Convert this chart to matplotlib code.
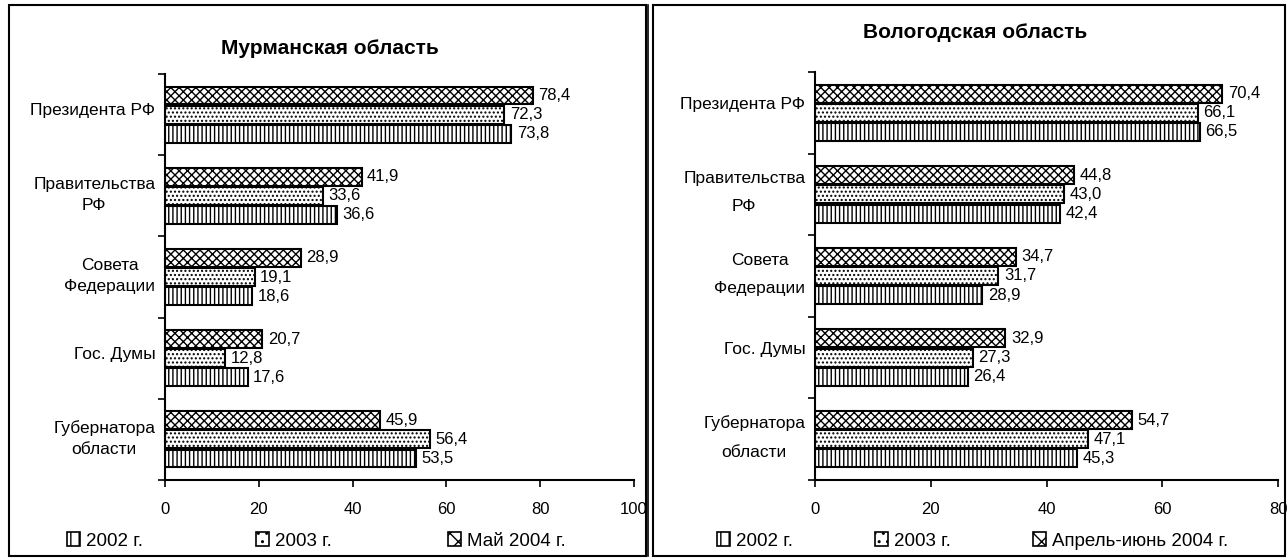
import matplotlib
matplotlib.use("Agg")
import matplotlib.pyplot as plt
from matplotlib.patches import Rectangle, Patch
import numpy as np

plt.rcParams['font.family'] = ['Liberation Sans', 'DejaVu Sans']
plt.rcParams['hatch.linewidth'] = 1.0

categories = ["Президента РФ", "Правительства\nРФ", "Совета\nФедерации", "Гос. Думы", "Губернатора\nобласти"]

murm_2002 = [73.8, 36.6, 18.6, 17.6, 53.5]
murm_2003 = [72.3, 33.6, 19.1, 12.8, 56.4]
murm_2004 = [78.4, 41.9, 28.9, 20.7, 45.9]
murm_labels = ["2002 г.", "2003 г.", "Май 2004 г."]
murm_title = "Мурманская область"
murm_xticks = [0, 20, 40, 60, 80, 100]

vol_2002 = [66.5, 42.4, 28.9, 26.4, 45.3]
vol_2003 = [66.1, 43.0, 31.7, 27.3, 47.1]
vol_2004 = [70.4, 44.8, 34.7, 32.9, 54.7]
vol_labels = ["2002 г.", "2003 г.", "Апрель-июнь 2004 г."]
vol_title = "Вологодская область"
vol_xticks = [0, 20, 40, 60, 80]

hatches = ['||||', '....', 'xxxx']

W, H = 1288, 559
fig = plt.figure(figsize=(W / 100, H / 100), dpi=100)


def fx(px):
    return px / W


def fy(py):
    return 1 - py / H


def draw(ax, series, labels, title, xticks, title_xy, linesp, label_shift):
    n = len(categories)
    y = np.arange(n)
    bh = 0.22
    handles = []
    for s, vals, lab in zip(range(3), series, labels):
        pos = y + [0.235, 0.0, -0.235][s]
        bars = ax.barh(pos, vals, height=bh, color='white', edgecolor='black',
                       linewidth=1.5, hatch=hatches[s], label=lab)
        for b, v in zip(bars, vals):
            ax.annotate(f"{v:.1f}".replace('.', ','), (v, b.get_y() + b.get_height() / 2),
                        xytext=(4, 0), textcoords='offset points',
                        va='center', ha='left', fontsize=12)
        handles.append(Patch(facecolor='white', edgecolor='black', linewidth=1.2,
                             hatch=hatches[s][:2], label=lab))
    ax.set_ylim(n - 0.5, -0.5)
    ax.set_xlim(xticks[0], xticks[-1])
    ax.set_xticks(xticks)
    ax.set_yticks(y - label_shift)
    ax.set_yticklabels(categories, multialignment='center', linespacing=linesp)
    ax.set_yticks(np.arange(n + 1) - 0.5, minor=True)
    ax.tick_params(axis='y', which='major', length=0, pad=7, labelsize=12.5)
    ax.tick_params(axis='y', which='minor', length=5, width=1.2, direction='out')
    ax.tick_params(axis='x', which='major', length=5, width=1.2, direction='out', labelsize=12, pad=11)
    for sp in ['top', 'right']:
        ax.spines[sp].set_visible(False)
    for sp in ['left', 'bottom']:
        ax.spines[sp].set_linewidth(1.5)
    fig.text(title_xy[0], title_xy[1], title, ha='center', va='center', fontsize=15, fontweight='bold')
    return handles


ax1 = fig.add_axes([fx(165), fy(480), fx(634) - fx(165), fy(74) - fy(480)])
h1 = draw(ax1, [murm_2002, murm_2003, murm_2004], murm_labels, murm_title, murm_xticks,
          (fx(330), fy(48)), 1.5, 0.07)
ax2 = fig.add_axes([fx(815), fy(480), fx(1278) - fx(815), fy(72) - fy(480)])
h2 = draw(ax2, [vol_2002, vol_2003, vol_2004], vol_labels, vol_title, vol_xticks,
          (fx(975), fy(32)), 2.1, 0.12)


def legend_item(h, x):
    fig.legend(handles=[h], loc='center left', bbox_to_anchor=(fx(x), fy(541)), frameon=False,
               fontsize=13.5, handlelength=0.7, handleheight=0.7, handletextpad=0.3,
               borderpad=0, borderaxespad=0)


for h, x in zip(h1, [67, 256, 448]):
    legend_item(h, x)
for h, x in zip(h2, [717, 875, 1033]):
    legend_item(h, x)

# panel borders
fig.add_artist(Rectangle((fx(9), fy(556)), fx(646) - fx(9), fy(5) - fy(556), transform=fig.transFigure,
                         fill=False, edgecolor='black', linewidth=1.5))
fig.add_artist(Rectangle((fx(653), fy(556)), fx(1285) - fx(653), fy(5) - fy(556), transform=fig.transFigure,
                         fill=False, edgecolor='black', linewidth=1.5))
fig.add_artist(plt.Line2D([fx(648), fx(648)], [fy(556), fy(5)], transform=fig.transFigure,
                          color='black', linewidth=1.2))

fig.savefig("out.png", dpi=100)
